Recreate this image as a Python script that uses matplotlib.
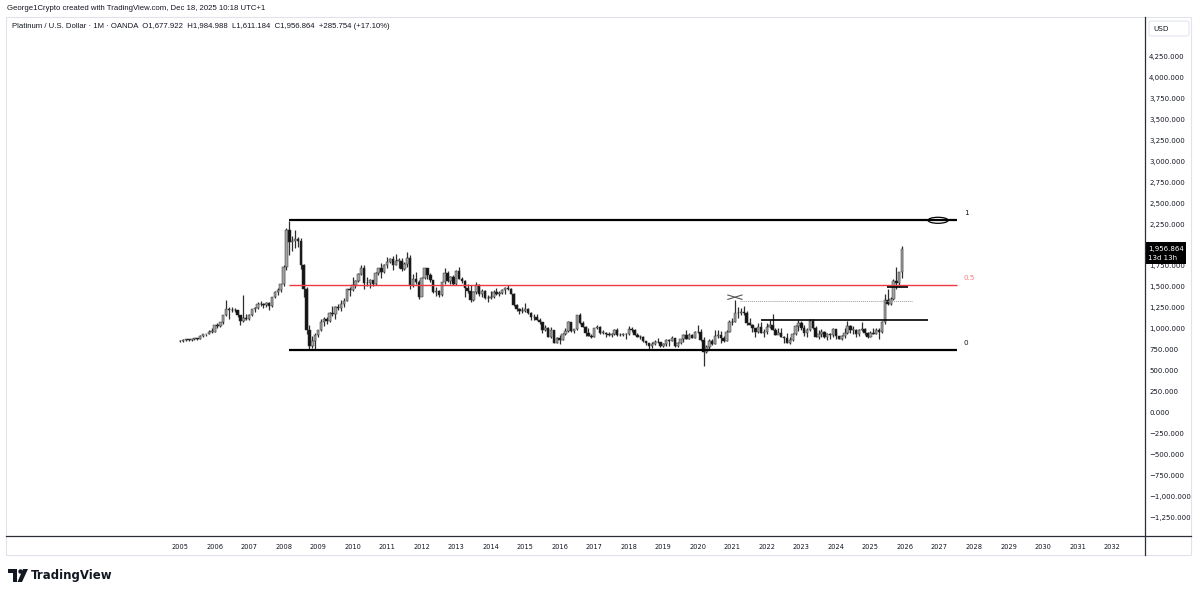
import matplotlib.pyplot as plt
from matplotlib.patches import Rectangle, FancyBboxPatch, Ellipse, Polygon, Circle

plt.rcParams['font.family'] = ['DejaVu Sans']

# monthly Platinum / USD (OANDA), Jan 2005 .. Dec 2025
first_year = 2005
first_open = 850.0

closes = [
    858, 866, 870, 868, 872, 885, 880, 916, 935, 935, 963, 966,          # 2005
    1042, 1037, 1075, 1160, 1240, 1230, 1220, 1220, 1160, 1095, 1130, 1120,  # 2006
    1160, 1235, 1245, 1300, 1295, 1280, 1305, 1275, 1380, 1440, 1460, 1530,  # 2007
    1740, 2180, 2035, 2050, 2070, 2050, 1760, 1480, 990, 800, 850, 930,     # 2008
    980, 1075, 1120, 1095, 1185, 1180, 1255, 1250, 1290, 1335, 1470, 1460,   # 2009
    1525, 1570, 1650, 1720, 1545, 1545, 1580, 1535, 1665, 1725, 1680, 1760,  # 2010
    1800, 1835, 1765, 1810, 1810, 1715, 1775, 1840, 1520, 1595, 1560, 1380,  # 2011
    1610, 1720, 1640, 1580, 1440, 1450, 1405, 1560, 1670, 1570, 1620, 1530,  # 2012
    1690, 1600, 1575, 1490, 1455, 1340, 1435, 1525, 1410, 1450, 1365, 1365,  # 2013
    1380, 1440, 1410, 1425, 1460, 1490, 1475, 1420, 1285, 1240, 1210, 1210,  # 2014
    1240, 1190, 1135, 1135, 1110, 1075, 985, 1010, 905, 985, 835, 892,       # 2015
    865, 935, 970, 1075, 975, 995, 1160, 1065, 1025, 955, 915, 905,          # 2016
    1005, 1025, 950, 950, 940, 920, 935, 990, 920, 920, 940, 935,            # 2017
    1000, 985, 930, 900, 900, 850, 835, 790, 815, 840, 845, 795,             # 2018
    820, 865, 850, 890, 790, 830, 875, 925, 880, 930, 895, 965,              # 2019
    960, 860, 725, 785, 850, 820, 910, 925, 885, 850, 965, 1075,             # 2020
    1080, 1190, 1185, 1205, 1185, 1065, 1050, 1005, 965, 1020, 955, 965,     # 2021
    1020, 1045, 990, 925, 955, 905, 895, 830, 865, 935, 1030, 1070,          # 2022
    1010, 945, 985, 1090, 1010, 905, 940, 965, 905, 935, 930, 1000,          # 2023
    915, 880, 910, 955, 1035, 990, 990, 940, 985, 1000, 945, 905,            # 2024
    955, 940, 985, 965, 1080, 1345, 1300, 1355, 1575, 1550, 1677.922, 1956.864,  # 2025
]

highs = [
    870, 875, 880, 880, 880, 890, 895, 920, 940, 942, 985, 1015,         # 2005
    1050, 1065, 1085, 1165, 1343, 1260, 1260, 1250, 1230, 1165, 1400, 1175,  # 2006
    1180, 1240, 1255, 1320, 1330, 1310, 1325, 1320, 1385, 1445, 1490, 1535,  # 2007
    1760, 2200, 2290, 2110, 2185, 2100, 2080, 1770, 1500, 1050, 910, 950,   # 2008
    990, 1115, 1140, 1145, 1200, 1270, 1270, 1290, 1340, 1370, 1480, 1495,   # 2009
    1620, 1580, 1660, 1760, 1760, 1615, 1590, 1585, 1675, 1730, 1790, 1770,  # 2010
    1860, 1850, 1865, 1890, 1840, 1845, 1800, 1915, 1875, 1650, 1680, 1580,  # 2011
    1620, 1730, 1730, 1665, 1585, 1500, 1460, 1560, 1725, 1690, 1630, 1640,  # 2012
    1700, 1740, 1620, 1580, 1535, 1520, 1450, 1560, 1540, 1475, 1465, 1400,  # 2013
    1450, 1460, 1490, 1450, 1480, 1495, 1525, 1490, 1430, 1295, 1245, 1265,  # 2014
    1305, 1245, 1200, 1180, 1175, 1125, 1085, 1040, 1020, 1025, 990, 900,    # 2015
    920, 955, 1010, 1090, 1085, 1000, 1170, 1190, 1090, 1030, 1010, 935,     # 2016
    1010, 1045, 1030, 985, 960, 965, 945, 1000, 1010, 945, 955, 945,         # 2017
    1030, 1020, 1000, 950, 920, 915, 850, 835, 840, 860, 885, 810,           # 2018
    830, 880, 880, 910, 895, 845, 880, 935, 985, 945, 940, 975,              # 2019
    1040, 1000, 905, 810, 875, 880, 980, 985, 975, 910, 990, 1100,           # 2020
    1130, 1340, 1260, 1245, 1275, 1210, 1125, 1055, 1010, 1070, 1085, 995,   # 2021
    1070, 1105, 1180, 1015, 1010, 1015, 915, 955, 905, 945, 1040, 1100,      # 2022
    1095, 1040, 1010, 1115, 1120, 1035, 985, 1000, 970, 945, 950, 1010,      # 2023
    975, 915, 925, 1005, 1095, 1045, 1035, 1000, 1000, 1085, 1010, 965,      # 2024
    975, 1005, 1010, 1015, 1090, 1415, 1480, 1385, 1600, 1740, 1680, 1984.988,  # 2025
]

lows = [
    842, 848, 855, 855, 858, 862, 862, 875, 900, 918, 935, 955,          # 2005
    966, 1010, 1020, 1055, 1155, 1115, 1205, 1200, 1140, 1040, 1075, 1100,  # 2006
    1110, 1150, 1195, 1240, 1275, 1250, 1260, 1225, 1255, 1365, 1400, 1435,  # 2007
    1510, 1700, 1880, 1930, 1960, 1980, 1715, 1385, 940, 755, 765, 760,    # 2008
    900, 970, 1030, 1060, 1080, 1150, 1120, 1220, 1210, 1265, 1330, 1395,   # 2009
    1450, 1485, 1560, 1640, 1480, 1510, 1490, 1505, 1520, 1640, 1610, 1665,  # 2010
    1730, 1780, 1700, 1760, 1730, 1690, 1700, 1740, 1480, 1500, 1530, 1355,  # 2011
    1390, 1600, 1600, 1555, 1425, 1390, 1385, 1395, 1540, 1555, 1535, 1525,  # 2012
    1520, 1595, 1545, 1385, 1430, 1315, 1335, 1420, 1390, 1375, 1360, 1315,  # 2013
    1355, 1365, 1400, 1395, 1415, 1420, 1460, 1410, 1275, 1210, 1175, 1185,  # 2014
    1200, 1180, 1110, 1110, 1100, 1055, 950, 975, 900, 890, 830, 825,        # 2015
    815, 860, 930, 960, 965, 955, 985, 1055, 1020, 910, 910, 895,            # 2016
    900, 995, 935, 940, 905, 910, 905, 925, 915, 910, 915, 875,              # 2017
    930, 965, 925, 900, 880, 845, 810, 760, 770, 810, 835, 780,              # 2018
    785, 795, 800, 855, 785, 785, 820, 840, 875, 875, 890, 890,              # 2019
    945, 850, 560, 705, 760, 810, 815, 895, 835, 840, 850, 965,              # 2020
    1050, 1080, 1125, 1160, 1170, 1045, 1040, 960, 900, 955, 950, 905,       # 2021
    940, 1010, 985, 920, 935, 905, 830, 825, 820, 850, 920, 975,             # 2022
    990, 915, 900, 970, 1000, 900, 880, 900, 890, 860, 880, 905,             # 2023
    880, 875, 870, 895, 940, 955, 940, 905, 910, 975, 925, 895,              # 2024
    900, 935, 935, 880, 955, 1055, 1285, 1285, 1340, 1470, 1500, 1611.184,   # 2025
]

opens = [first_open] + closes[:-1]
dates = [first_year + i / 12 for i in range(len(closes))]

# drawings (fib retracement + levels)
fib_start, fib_end = 2008.17, 2027.5
fib_high, fib_low = 2295, 745
range_top = 1104
range_x = (2021.83, 2026.67)
peak_level = 1328
peak_x = (2021.22, 2026.2)
break_level = 1495
break_x = (2025.48, 2026.09)

years = list(range(2005, 2033))
price_ticks = list(range(-1250, 4251, 250))

W, H = 1199, 594
fig = plt.figure(figsize=(W / 100, H / 100), dpi=100)
fig.patch.set_facecolor('white')

# main pane: x 8..1145 px, y 17..536 px
ax = fig.add_axes([8 / W, 1 - 536 / H, (1145 - 8) / W, (536 - 17) / H])
ax.set_xlim(2000.017, 2032.955)
ax.set_ylim(-1474, 4722)
for s in ax.spines.values():
    s.set_visible(False)

up_col, dn_col = '#a3a3a3', '#141414'
cols = [up_col if c >= o else dn_col for o, c in zip(opens, closes)]
ax.vlines(dates, lows, highs, colors='#2e2e2e', linewidth=0.9, zorder=3)
ax.bar(dates, [max(abs(c - o), 6) for o, c in zip(opens, closes)],
       bottom=[min(o, c) for o, c in zip(opens, closes)],
       width=0.072, color=cols, edgecolor='#2e2e2e', linewidth=0.35, zorder=4)

# fib lines
fib_mid = (fib_high + fib_low) / 2
ax.hlines([fib_high, fib_low], fib_start, fib_end, color='black', linewidth=1.6, zorder=5)
ax.hlines(fib_mid, fib_start, fib_end, color='#f23645', linewidth=1.0, zorder=5)
ax.annotate('1', (fib_end, fib_high), xytext=(5, 3), textcoords='offset points',
            fontsize=5.2, color='#131722', va='bottom')
ax.annotate('0.5', (fib_end, fib_mid), xytext=(5, 3), textcoords='offset points',
            fontsize=5.2, color='#f77c80', va='bottom')
ax.annotate('0', (fib_end, fib_low), xytext=(5, 3), textcoords='offset points',
            fontsize=5.2, color='#131722', va='bottom')

# other levels
ax.hlines(range_top, *range_x, color='black', linewidth=1.2, zorder=5)
ax.hlines(peak_level, *peak_x, color='#9a9a9a', linewidth=0.7, linestyles=(0, (1, 1)), zorder=5)
ax.hlines(break_level, *break_x, color='black', linewidth=1.2, zorder=5)
ax.plot([2020.87, 2021.28], [1403, 1351], color='#555555', linewidth=0.8, zorder=5)
ax.plot([2020.87, 2021.28], [1351, 1403], color='#555555', linewidth=0.8, zorder=5)
ax.add_patch(Ellipse((2026.96, fib_high), 0.58, 72, fill=False, edgecolor='black',
                     linewidth=0.9, zorder=6))

# axes ticks (2,000 label sits under the last-price box)
ax.set_xticks(years)
ax.set_xticklabels([str(y) for y in years])
ax.set_yticks(price_ticks)
ax.set_yticklabels(['' if v == 2000 else f"{v:,.3f}".replace('-', '\u2212')
                    for v in price_ticks])
ax.yaxis.tick_right()
ax.tick_params(axis='y', length=0, pad=3, labelsize=5.0, labelcolor='#131722')
ax.tick_params(axis='x', length=0, pad=5.5, labelsize=4.8, labelcolor='#131722')

# overlay in pixel coords
ov = fig.add_axes([0, 0, 1, 1], zorder=10)
ov.set_xlim(0, W)
ov.set_ylim(H, 0)
ov.axis('off')
ov.patch.set_alpha(0)

ov.add_patch(Rectangle((6, 17), 1185, 538, fill=False, edgecolor='#e0e3eb', linewidth=0.8))
ov.plot([1145, 1145], [17, 555], color='#2a2e39', linewidth=0.9)
ov.plot([6, 1191], [536, 536], color='#2a2e39', linewidth=0.9)

ov.text(7, 8, 'George1Crypto created with TradingView.com, Dec 18, 2025 10:18 UTC+1',
        fontsize=5.6, family='Liberation Sans', color='#131722', va='center')
ov.text(12, 27, 'Platinum / U.S. Dollar \u00b7 1M \u00b7 OANDA  O1,677.922  H1,984.988  '
        'L1,611.184  C1,956.864  +285.754 (+17.10%)',
        fontsize=5.6, family='Liberation Sans', color='#131722', va='center')

ov.add_patch(FancyBboxPatch((1149, 21), 40, 15, boxstyle='round,pad=0,rounding_size=2',
                            facecolor='white', edgecolor='#e0e3eb', linewidth=0.7))
ov.text(1153, 29, 'USD', fontsize=5.2, color='#131722', va='center')

# last price label
last_y = 412.5 - closes[-1] * 0.08376
ov.add_patch(Rectangle((1145, last_y - 7), 41, 22, facecolor='black', edgecolor='none'))
ov.text(1148, last_y, f"{closes[-1]:,.3f}", fontsize=5.0, color='white', va='center')
ov.text(1148, last_y + 9, '13d 13h', fontsize=5.0, color='white', va='center')

# TradingView logo
ov.add_patch(Polygon([(8, 569), (17, 569), (17, 582), (13, 582), (13, 573), (8, 573)],
                     closed=True, facecolor='#131722', edgecolor='none'))
ov.add_patch(Circle((20.5, 571.5), 2.2, facecolor='#131722', edgecolor='none'))
ov.add_patch(Polygon([(23, 569), (28, 569), (22, 582), (17.5, 582)],
                     closed=True, facecolor='#131722', edgecolor='none'))
ov.text(31, 575.5, 'TradingView', fontsize=8.5, fontweight='bold', color='#131722', va='center')

fig.savefig('out.png', dpi=100)
